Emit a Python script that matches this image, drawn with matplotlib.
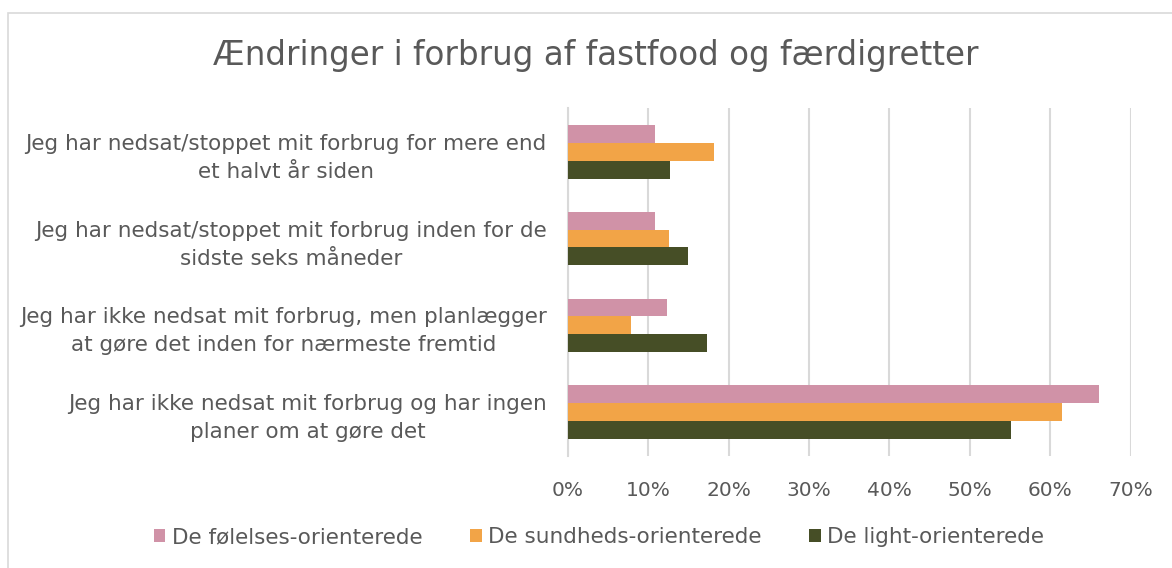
import matplotlib
matplotlib.use("Agg")
import matplotlib.pyplot as plt
import matplotlib.patches as mpatches
import numpy as np

# data (percent)
categories = [
    "Jeg har nedsat/stoppet mit forbrug for mere end\net halvt år siden",
    "Jeg har nedsat/stoppet mit forbrug inden for de\nsidste seks måneder",
    "Jeg har ikke nedsat mit forbrug, men planlægger\nat gøre det inden for nærmeste fremtid",
    "Jeg har ikke nedsat mit forbrug og har ingen\nplaner om at gøre det",
]
series_names = ["De følelses-orienterede", "De sundheds-orienterede", "De light-orienterede"]
folelses = [10.8, 10.8, 12.3, 66.0]
sundheds = [18.2, 12.6, 7.9, 61.4]
light = [12.7, 14.9, 17.3, 55.1]
xticks = [0, 10, 20, 30, 40, 50, 60, 70]

colors = ["#D092A7", "#F2A447", "#464E26"]
text_color = "#595959"
grid_color = "#D9D9D9"

fig = plt.figure(figsize=(11.72, 5.68), dpi=100)
fig.patch.set_facecolor("white")

# thin grey chart border
border = mpatches.Rectangle((8 / 1172, -0.02), 1.05, 1 - 13 / 568 + 0.02,
                            transform=fig.transFigure, fill=False,
                            edgecolor=grid_color, linewidth=1.2)
fig.add_artist(border)

ax = fig.add_axes([567.7 / 1172, 1 - 455.6 / 568, (1130.7 - 567.7) / 1172, (455.6 - 108.3) / 568])

y = np.arange(len(categories))
bar_h = 0.206
for i, (vals, name) in enumerate(zip([folelses, sundheds, light], series_names)):
    ax.barh(y + (i - 1) * bar_h, vals, height=bar_h, color=colors[i], label=name, zorder=3)

ax.set_xlim(0, 70)
ax.set_ylim(len(categories) - 0.5, -0.5)
ax.set_xticks(xticks)
ax.set_xticklabels([f"{t}%" for t in xticks])
ax.set_yticks(y)
ax.set_yticklabels(categories, multialignment="center", linespacing=1.5)

ax.xaxis.grid(True, color=grid_color, linewidth=1.5, zorder=0)
for s in ["top", "right", "bottom"]:
    ax.spines[s].set_visible(False)
ax.spines["left"].set_color(grid_color)
ax.spines["left"].set_linewidth(1.5)
ax.tick_params(axis="x", length=0, labelsize=14.5, colors=text_color, pad=18)
ax.tick_params(axis="y", length=0, labelsize=15.5, colors=text_color, pad=15)

fig.text(0.508, 0.903, "Ændringer i forbrug af fastfood og færdigretter",
         ha="center", va="center", fontsize=23.5, color=text_color)

leg = fig.legend(loc="center", bbox_to_anchor=(0.511, 1 - 537 / 568), ncol=3,
                 frameon=False, fontsize=15.5, handlelength=0.55, handleheight=0.55,
                 handletextpad=0.3, columnspacing=2.2)
for t in leg.get_texts():
    t.set_color(text_color)

plt.savefig("out.png", dpi=100)
